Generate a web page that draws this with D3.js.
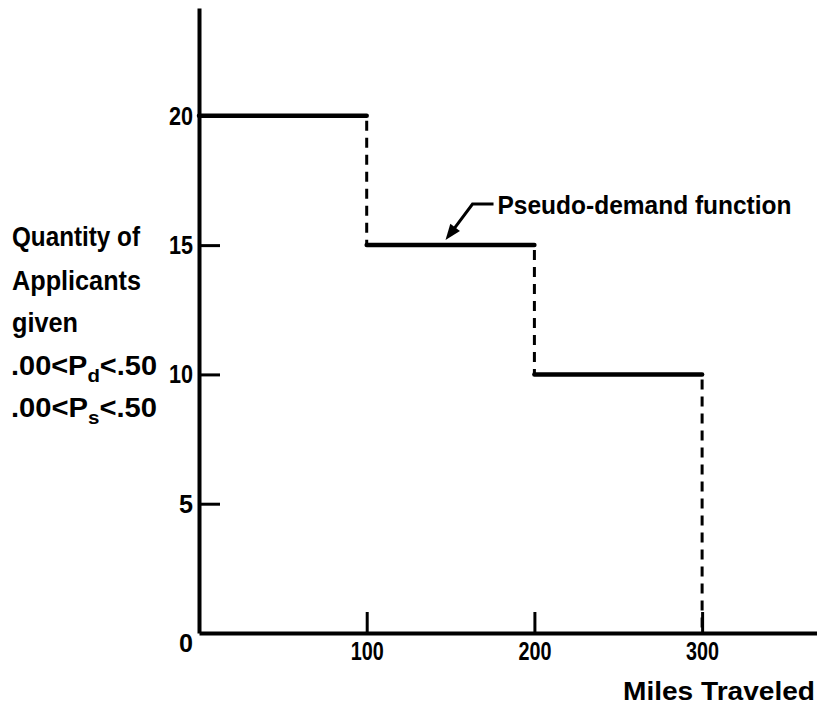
<!DOCTYPE html>
<html>
<head>
<meta charset="utf-8">
<script src="https://cdn.jsdelivr.net/npm/d3@7"></script>
<style>
  html, body { margin: 0; padding: 0; background: #fff; }
  svg { display: block; }
  text { font-family: "Liberation Sans", Arial, sans-serif; font-weight: bold; fill: #000; }
</style>
</head>
<body>
<svg id="chart" width="817" height="711"></svg>
<script>
// Step boundaries on the miles axis and the quantity held on each step
const milesBreaks = [0, 100, 200, 300];
const quantities = [20, 15, 10];
const xTickValues = [100, 200, 300];
const yTickValues = [5, 10, 15, 20];
const xTitle = "Miles Traveled";
const yTitleLines = ["Quantity of", "Applicants", "given"];
const curveLabel = "Pseudo-demand function";

const svg = d3.select("#chart");

const x = d3.scaleLinear().domain([0, 370]).range([199, 819.5]);
const y = d3.scaleLinear().domain([0, 24.17]).range([633, 8]);

const tickFont = 26;

// Y axis: ticks point into the plot
const yAxis = svg.append("g")
  .attr("transform", `translate(${x(0)},0)`)
  .call(d3.axisLeft(y).tickValues(yTickValues).tickSizeInner(-21).tickSizeOuter(0).tickPadding(6))
  .attr("font-size", tickFont)
  .attr("font-family", "Liberation Sans, Arial, sans-serif")
  .attr("font-weight", "bold");
yAxis.select(".domain").attr("stroke", "#000").attr("stroke-width", 4);
yAxis.selectAll(".tick line").attr("stroke", "#000").attr("stroke-width", 3);
yAxis.selectAll(".tick text")
  .attr("textLength", d => d < 10 ? 14 : 24).attr("lengthAdjust", "spacingAndGlyphs");

// X axis: ticks point up into the plot
const xAxis = svg.append("g")
  .attr("transform", `translate(0,${y(0)})`)
  .call(d3.axisBottom(x).tickValues(xTickValues).tickSizeInner(-21).tickSizeOuter(0).tickPadding(9))
  .attr("font-size", tickFont)
  .attr("font-family", "Liberation Sans, Arial, sans-serif")
  .attr("font-weight", "bold");
xAxis.select(".domain").attr("stroke", "#000").attr("stroke-width", 4);
xAxis.selectAll(".tick line").attr("stroke", "#000").attr("stroke-width", 3);
xAxis.selectAll(".tick text")
  .attr("textLength", 33).attr("lengthAdjust", "spacingAndGlyphs");

// Origin label sits below-left of the corner
svg.append("text")
  .attr("x", x(0) - 6).attr("y", y(0) + 19)
  .attr("text-anchor", "end")
  .attr("font-size", tickFont)
  .attr("textLength", 14).attr("lengthAdjust", "spacingAndGlyphs")
  .text("0");

// Solid horizontal steps
svg.append("g").selectAll("line.step")
  .data(quantities)
  .join("line")
  .attr("x1", (d, i) => x(milesBreaks[i]))
  .attr("x2", (d, i) => x(milesBreaks[i + 1]))
  .attr("y1", d => y(d))
  .attr("y2", d => y(d))
  .attr("stroke", "#000")
  .attr("stroke-width", 4.5)
  .attr("stroke-linecap", "round");

// Dashed drops between steps, the last one down to zero
svg.append("g").selectAll("line.drop")
  .data(quantities)
  .join("line")
  .attr("x1", (d, i) => x(milesBreaks[i + 1]))
  .attr("x2", (d, i) => x(milesBreaks[i + 1]))
  .attr("y1", d => y(d) + 5)
  .attr("y2", (d, i) => y(i + 1 < quantities.length ? quantities[i + 1] : 0))
  .attr("stroke", "#000")
  .attr("stroke-width", 3)
  .attr("stroke-dasharray", "10,7");

// Curve annotation with leader arrow
const tipX = x(147), tipY = y(15) - 5;
const bendX = tipX + 27, bendY = tipY - 36;
svg.append("path")
  .attr("d", `M${tipX + 6},${tipY - 8} L${bendX},${bendY} L${bendX + 21},${bendY}`)
  .attr("fill", "none").attr("stroke", "#000").attr("stroke-width", 3);
{
  const ang = Math.atan2(tipY - bendY, tipX - bendX);
  const len = 16, half = 6;
  const bx = tipX - len * Math.cos(ang), by = tipY - len * Math.sin(ang);
  const px = -Math.sin(ang) * half, py = Math.cos(ang) * half;
  svg.append("path")
    .attr("d", `M${tipX},${tipY} L${bx + px},${by + py} L${bx - px},${by - py} Z`)
    .attr("fill", "#000");
}
svg.append("text")
  .attr("x", bendX + 25).attr("y", bendY + 10)
  .attr("font-size", 26)
  .attr("textLength", 294).attr("lengthAdjust", "spacingAndGlyphs")
  .text(curveLabel);

// X axis title
svg.append("text")
  .attr("x", 623).attr("y", 700)
  .attr("font-size", 25)
  .attr("textLength", 192).attr("lengthAdjust", "spacingAndGlyphs")
  .text(xTitle);

// Y axis title, stacked on the left
const titleBaselines = [246, 290, 332];
const titleWidths = [128, 129, 66];
svg.append("g").selectAll("text")
  .data(yTitleLines)
  .join("text")
  .attr("x", 12)
  .attr("y", (d, i) => titleBaselines[i])
  .attr("font-size", 27)
  .attr("textLength", (d, i) => titleWidths[i]).attr("lengthAdjust", "spacingAndGlyphs")
  .text(d => d);

// Probability ranges with subscripts
function rangeLine(yBase, sub) {
  const t = svg.append("text")
    .attr("x", 11).attr("y", yBase)
    .attr("font-size", 27)
    .attr("textLength", 146).attr("lengthAdjust", "spacingAndGlyphs");
  t.append("tspan").text(".00<P");
  t.append("tspan").attr("dy", 7).attr("font-size", 19).text(sub);
  t.append("tspan").attr("dy", -7).text("<.50");
}
rangeLine(375, "d");
rangeLine(417, "s");
</script>
</body>
</html>
